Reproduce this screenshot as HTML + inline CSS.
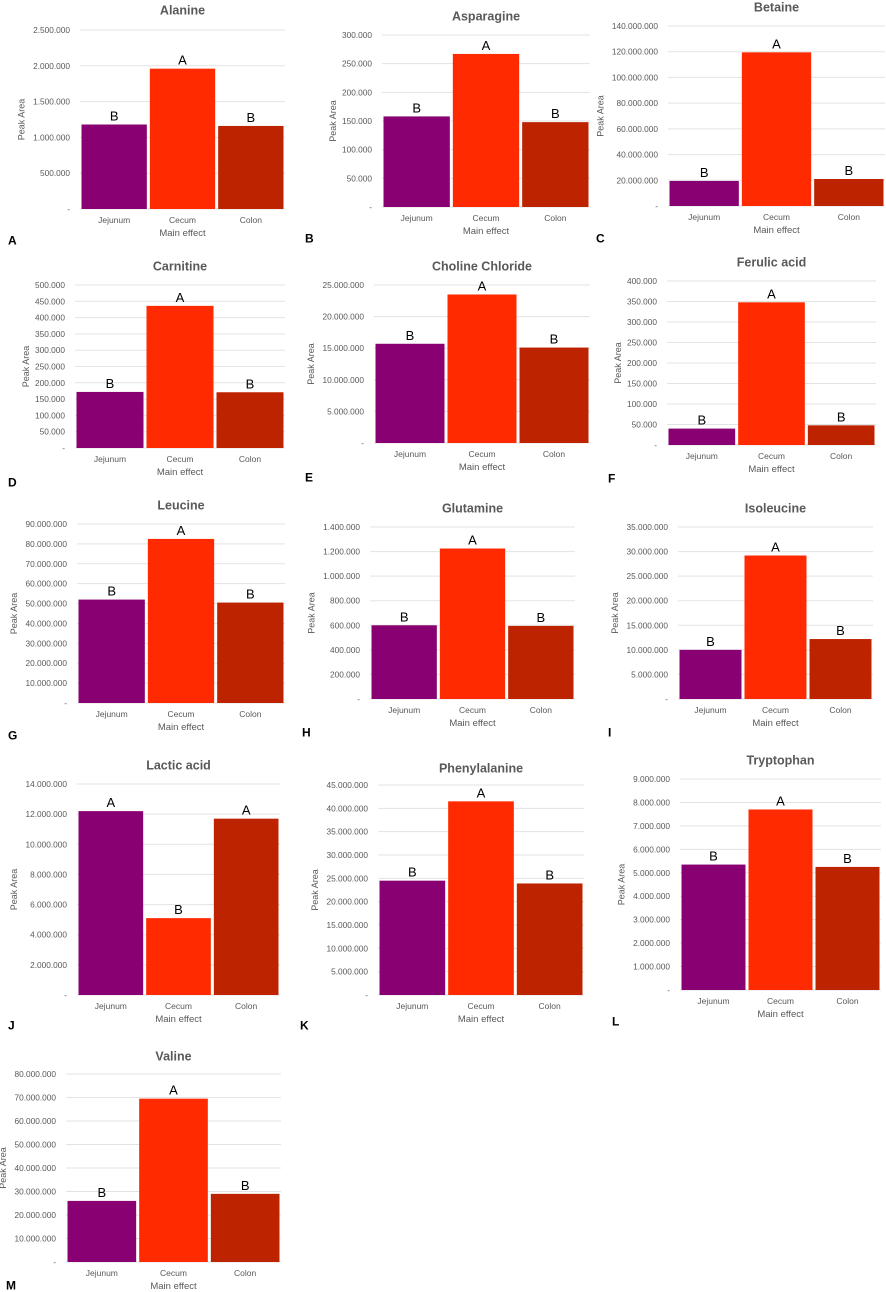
<!DOCTYPE html>
<html><head><meta charset="utf-8"><style>
html,body{margin:0;padding:0;background:#fff;}
svg{display:block;font-family:"Liberation Sans",sans-serif;}
</style></head><body>
<svg id="fig" width="886" height="1292" viewBox="0 0 886 1292" xmlns="http://www.w3.org/2000/svg"></svg>
<script>
const categories = ["Jejunum","Cecum","Colon"];
const titles = ["Alanine","Asparagine","Betaine","Carnitine","Choline Chloride","Ferulic acid","Leucine","Glutamine","Isoleucine","Lactic acid","Phenylalanine","Tryptophan","Valine"];
const panelLetters = ["A","B","C","D","E","F","G","H","I","J","K","L","M"];
const alanineValues = [1180000,1960000,1160000];
const asparagineValues = [158000,267000,148000];
const betaineValues = [19500000,119500000,21000000];
const carnitineValues = [172000,436000,171000];
const cholineValues = [15700000,23500000,15100000];
const ferulicValues = [40000,348000,48000];
const leucineValues = [52000000,82500000,50500000];
const glutamineValues = [600000,1225000,595000];
const isoleucineValues = [10000000,29200000,12200000];
const lacticValues = [12200000,5100000,11700000];
const phenylalanineValues = [24500000,41500000,23900000];
const tryptophanValues = [5350000,7700000,5250000];
const valineValues = [26000000,69500000,29000000];
const seriesValues = [alanineValues,asparagineValues,betaineValues,carnitineValues,cholineValues,ferulicValues,leucineValues,glutamineValues,isoleucineValues,lacticValues,phenylalanineValues,tryptophanValues,valineValues];
const groupLetters = [["B","A","B"],["B","A","B"],["B","A","B"],["B","A","B"],["B","A","B"],["B","A","B"],["B","A","B"],["B","A","B"],["B","A","B"],["A","B","A"],["B","A","B"],["B","A","B"],["B","A","B"]];
const tickSteps = [500000,50000,20000000,50000,5000000,50000,10000000,200000,5000000,2000000,5000000,1000000,10000000];
const tickMaxes = [2500000,300000,140000000,500000,25000000,400000,90000000,1400000,35000000,14000000,45000000,9000000,80000000];

// layout: [plotLeft, plotRight, yTop, yZero, titleCenterY, letterX, letterCenterY]
const layout = [
 [80,285,30,209,10,8,240],
 [382,590,35,207,16,305,238],
 [668,885,26,206,7,596,238],
 [75,285,285,448,266,8,482],
 [374,590,285,443,266,305,477],
 [667,876,281,445,262,608,478],
 [77,285,524,703,505,8,735],
 [370,575,527,699,508,302,732],
 [678,873,527,699,508,608,732],
 [77,280,784,995,765,8,1025],
 [378,584,785,995,768,300,1025],
 [680,881,779,990,760,612,1021],
 [66,281,1074,1262,1056,6,1285]
];
const colors = ["#880072","#FF2A00","#BE2300"];
const NS = "http://www.w3.org/2000/svg";
const svg = document.getElementById("fig");
function mk(tag, attrs, parent){const e=document.createElementNS(NS,tag);for(const k in attrs)e.setAttribute(k,attrs[k]);(parent||svg).appendChild(e);return e;}
function fmt(v){return v===0?"-":String(v).replace(/\B(?=(\d{3})+(?!\d))/g,".");}

seriesValues.forEach((vals,i)=>{
  const [L,R,T,Z,ty,lx,ly] = layout[i];
  const max = tickMaxes[i];
  const g = mk("g",{});
  
  
  const y = v => Z - (v/max)*(Z-T);
  const cx = (L+R)/2;
  const t = mk("text",{x:cx,y:ty+4.5,"text-anchor":"middle","font-size":"12.5","font-weight":"bold",fill:"#595959"},g);
  t.textContent = titles[i];
  
  
  for(let v=0; v<=max+1; v+=tickSteps[i]){
    const gy = y(v);
    const gl = mk("line",{x1:L,x2:R,y1:gy,y2:gy,stroke:"#e3e3e3","stroke-width":"1"},g);
    
    
    const tl = mk("text",{x:L-10,y:gy+3,"text-anchor":"end","font-size":"8.3",fill:"#595959"},g);
    tl.textContent = fmt(v);
    
    
  }
  const bw = (R-L)/3;
  vals.forEach((v,j)=>{
    const x0 = L + j*bw + 1.5;
    const r = mk("rect",{x:x0,y:y(v),width:bw-3,height:Z-y(v),fill:colors[j]},g);
    
    
    const lt = mk("text",{x:x0+(bw-3)/2,y:y(v)-4,"text-anchor":"middle","font-size":"13",fill:"#000"},g);
    lt.textContent = groupLetters[i][j];
    
    
    const cl = mk("text",{x:L+j*bw+bw/2,y:Z+14,"text-anchor":"middle","font-size":"8.5",fill:"#595959"},g);
    cl.textContent = categories[j];
    
    
  });
  const xt = mk("text",{x:cx,y:Z+27,"text-anchor":"middle","font-size":"9.5",fill:"#595959"},g);
  xt.textContent = "Main effect";
  
  
  const ytx = L-10-fmt(max).length*4.6-4;
  const yt = mk("text",{x:ytx,y:(T+Z)/2,"text-anchor":"middle","font-size":"9",fill:"#595959",transform:`rotate(-90 ${ytx} ${(T+Z)/2})`},g);
  yt.textContent = "Peak Area";
  
  
  const pl = mk("text",{x:lx,y:ly+4.5,"font-size":"12","font-weight":"bold",fill:"#000"},g);
  pl.textContent = panelLetters[i];
  
  
});
</script>
</body></html>
